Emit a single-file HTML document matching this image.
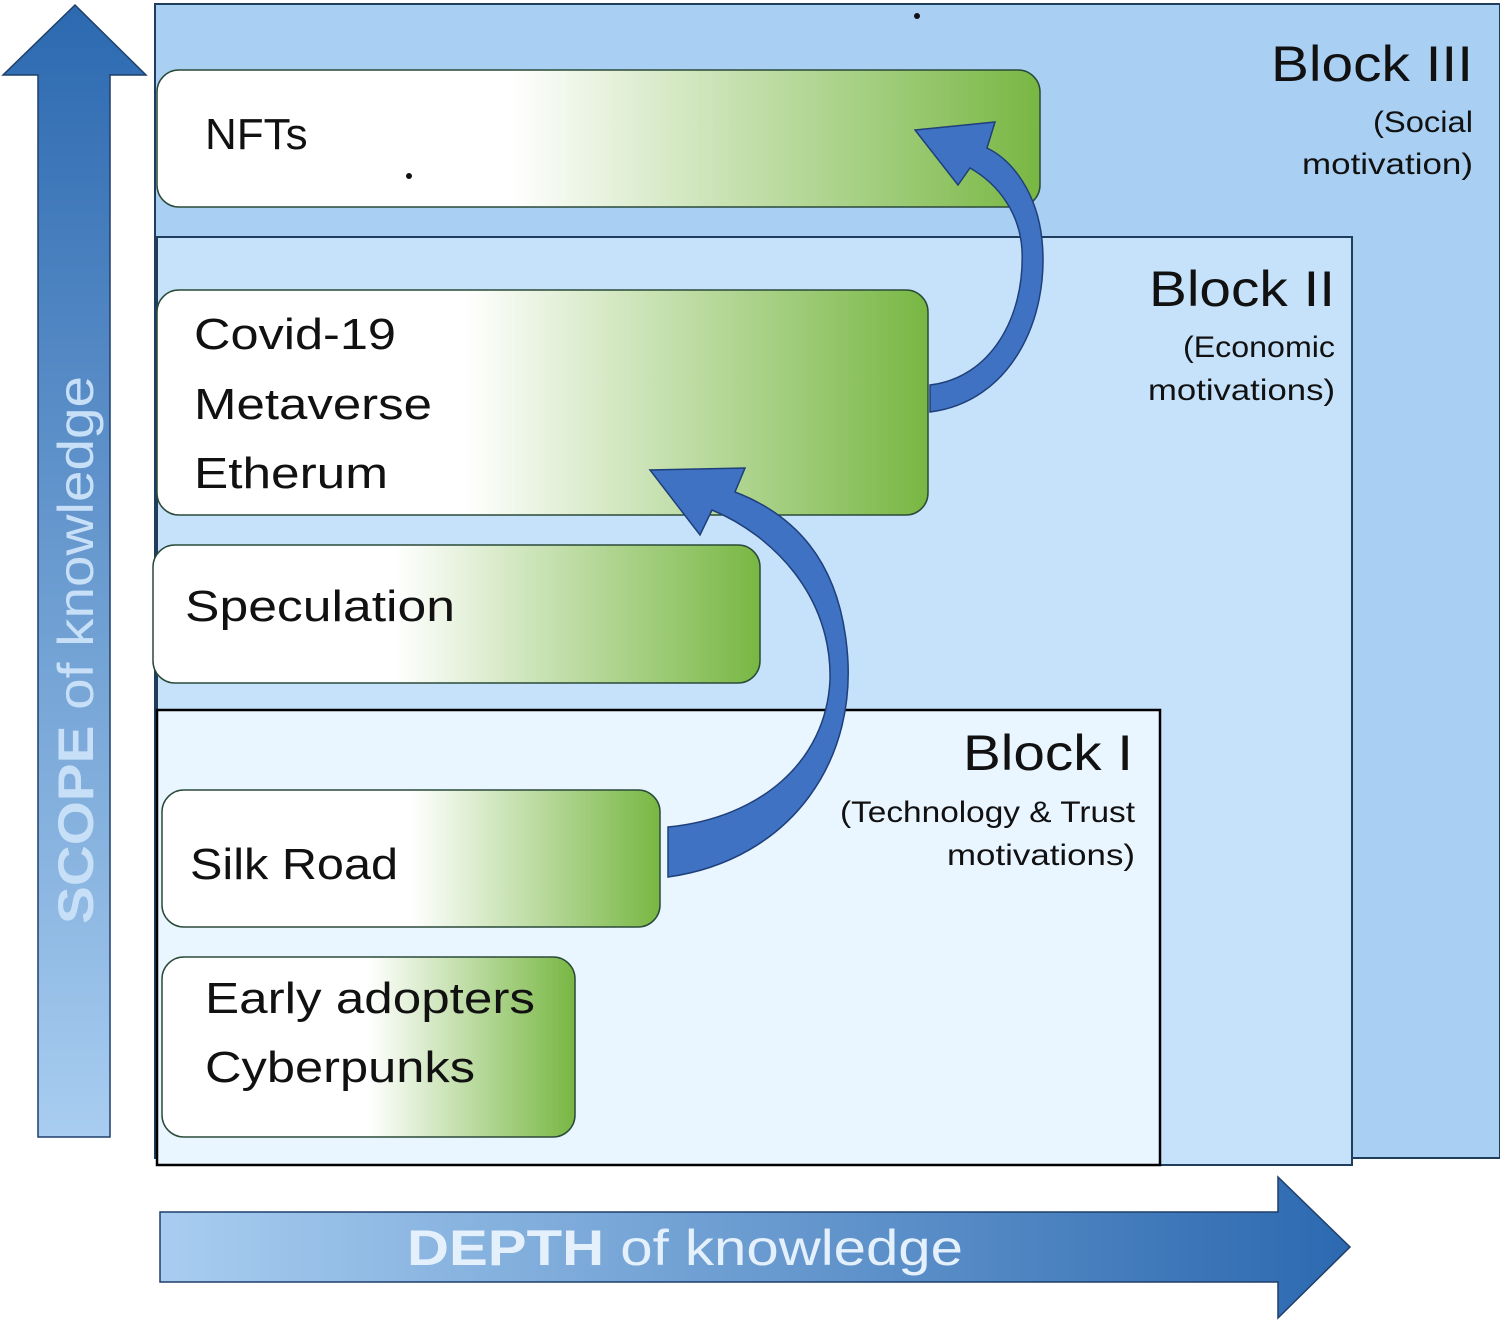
<!DOCTYPE html>
<html><head><meta charset="utf-8"><style>html,body{margin:0;padding:0;background:#fff}svg{display:block}text{font-family:"Liberation Sans",sans-serif}</style></head><body>
<svg width="1500" height="1323" viewBox="0 0 1500 1323" xmlns="http://www.w3.org/2000/svg">
<defs>
<linearGradient id="g" x1="0" x2="1" y1="0" y2="0"><stop offset="0" stop-color="#fff"/><stop offset="0.4" stop-color="#fff"/><stop offset="1" stop-color="#78b743"/></linearGradient>
<linearGradient id="g2" x1="0" x2="1" y1="0" y2="0"><stop offset="0" stop-color="#fff"/><stop offset="0.5" stop-color="#fff"/><stop offset="1" stop-color="#78b743"/></linearGradient>
<linearGradient id="vu" x1="0" x2="0" y1="0" y2="1"><stop offset="0" stop-color="#2c69b0"/><stop offset="1" stop-color="#a8cdf0"/></linearGradient>
<linearGradient id="hz" x1="0" x2="1" y1="0" y2="0"><stop offset="0" stop-color="#a8cdf0"/><stop offset="1" stop-color="#2c69b0"/></linearGradient>
</defs>
<rect x="155" y="4" width="1345" height="1154" fill="#a9cff3" stroke="#1f3d5c" stroke-width="2"/>
<rect x="157" y="237" width="1195" height="928" fill="#c6e2fb" stroke="#1f3d5c" stroke-width="2"/>
<rect x="157" y="710" width="1003" height="455" fill="#e9f5ff" stroke="#000" stroke-width="2.5"/>
<rect x="157" y="70" width="883" height="137" rx="22" fill="url(#g)" stroke="#2a4a38" stroke-width="1.5"/>
<rect x="157" y="290" width="771" height="225" rx="22" fill="url(#g)" stroke="#2a4a38" stroke-width="1.5"/>
<rect x="153" y="545" width="607" height="138" rx="22" fill="url(#g)" stroke="#2a4a38" stroke-width="1.5"/>
<rect x="162" y="790" width="498" height="137" rx="22" fill="url(#g2)" stroke="#2a4a38" stroke-width="1.5"/>
<rect x="162" y="957" width="413" height="180" rx="22" fill="url(#g2)" stroke="#2a4a38" stroke-width="1.5"/>
<path d="M668,877 C790,860 862,760 846,640 C836,560 795,515 735,492 L745,468 L650,470 L700,535 L712,510 C772,535 832,595 830,680 C826,762 760,818 668,827 Z" fill="#3f72c2" stroke="#1f3f7a" stroke-width="1.5"/>
<path d="M930,412 C1010,402 1050,320 1042,240 C1037,192 1012,160 987,148 L995,122 L915,130 L958,185 L970,168 C1000,185 1020,215 1022,250 C1025,318 990,378 930,385 Z" fill="#3f72c2" stroke="#1f3f7a" stroke-width="1.5"/>
<path d="M38,1137 L38,75 L3,75 L75,5 L146,75 L110,75 L110,1137 Z" fill="url(#vu)" stroke="#1f3f6a" stroke-width="1.5"/>
<path d="M160,1282 L160,1212 L1278,1212 L1278,1177 L1350,1247 L1278,1318 L1278,1282 Z" fill="url(#hz)" stroke="#1f3f6a" stroke-width="1.5"/>
<text transform="translate(93,650) rotate(-90)" text-anchor="middle" font-size="50" fill="#c8e0f7" textLength="548" lengthAdjust="spacingAndGlyphs"><tspan font-weight="bold">SCOPE</tspan> of knowledge</text>
<text x="685" y="1265" text-anchor="middle" font-size="50" fill="#e4f0fb" textLength="556" lengthAdjust="spacingAndGlyphs"><tspan font-weight="bold">DEPTH</tspan> of knowledge</text>
<g font-size="44" fill="#111">
<text x="205" y="149">NFTs</text>
<text x="194" y="349" textLength="202" lengthAdjust="spacingAndGlyphs">Covid-19</text>
<text x="194" y="419" textLength="238" lengthAdjust="spacingAndGlyphs">Metaverse</text>
<text x="194" y="488" textLength="194" lengthAdjust="spacingAndGlyphs">Etherum</text>
<text x="185" y="621" textLength="270" lengthAdjust="spacingAndGlyphs">Speculation</text>
<text x="190" y="879" textLength="208" lengthAdjust="spacingAndGlyphs">Silk Road</text>
<text x="205" y="1013" textLength="330" lengthAdjust="spacingAndGlyphs">Early adopters</text>
<text x="205" y="1082" textLength="270" lengthAdjust="spacingAndGlyphs">Cyberpunks</text>
</g>
<g fill="#111">
<text x="1473" y="81" font-size="50" text-anchor="end" textLength="202" lengthAdjust="spacingAndGlyphs">Block III</text>
<text x="1373" y="132" font-size="30" textLength="100" lengthAdjust="spacingAndGlyphs">(Social</text>
<text x="1302" y="174" font-size="30" textLength="171" lengthAdjust="spacingAndGlyphs">motivation)</text>
<text x="1335" y="306" font-size="50" text-anchor="end" textLength="186" lengthAdjust="spacingAndGlyphs">Block II</text>
<text x="1183" y="357" font-size="30" textLength="152" lengthAdjust="spacingAndGlyphs">(Economic</text>
<text x="1148" y="400" font-size="30" textLength="187" lengthAdjust="spacingAndGlyphs">motivations)</text>
<text x="1133" y="770" font-size="50" text-anchor="end" textLength="170" lengthAdjust="spacingAndGlyphs">Block I</text>
<text x="840" y="822" font-size="30" textLength="295" lengthAdjust="spacingAndGlyphs">(Technology &amp; Trust</text>
<text x="947" y="865" font-size="30" textLength="188" lengthAdjust="spacingAndGlyphs">motivations)</text>
</g>
<circle cx="409" cy="176" r="3" fill="#111"/>
<circle cx="917" cy="16" r="3" fill="#111"/>
</svg>
</body></html>
